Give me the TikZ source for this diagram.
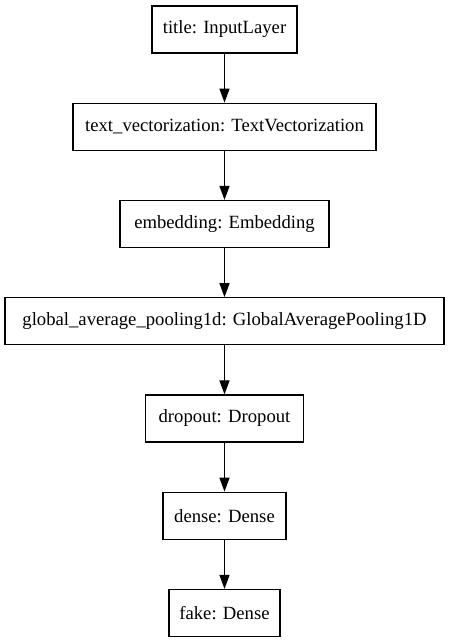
\documentclass[tikz,border=0pt]{standalone}
\usepackage{fontspec}
\setmainfont{Liberation Serif}
\usetikzlibrary{arrows.meta}

\begin{document}
\begin{tikzpicture}[x=1pt,y=1pt,
	layer/.style={draw,line width=1.2pt,inner xsep=4pt,minimum height=47pt,font=\rmfamily\fontsize{18.67}{22}\selectfont},
	flow/.style={line width=1.2pt,-{Triangle[length=14pt,width=10pt]}}]
	\useasboundingbox (0,0) rectangle (449,644);
	\def\step{97.25};
	\foreach \name/\w/\txt [count=\i from 0] in {title/145/{title: InputLayer},
		textvec/303/{text\_vectorization: TextVectorization},
		embed/209/{embedding: Embedding},
		pool/439/{global\_average\_pooling1d: GlobalAveragePooling1D},
		drop/158/{dropout: Dropout},
		dense/123/{dense: Dense},
		fake/111/{fake: Dense}}{
		\node[layer,minimum width=\w pt] (\name) at (224.5,614.5-\step*\i) {\txt};
	}
	\foreach \a/\b in {title/textvec,textvec/embed,embed/pool,pool/drop,drop/dense,dense/fake}
		\draw[flow] (\a) -- (\b);
\end{tikzpicture}
\end{document}
